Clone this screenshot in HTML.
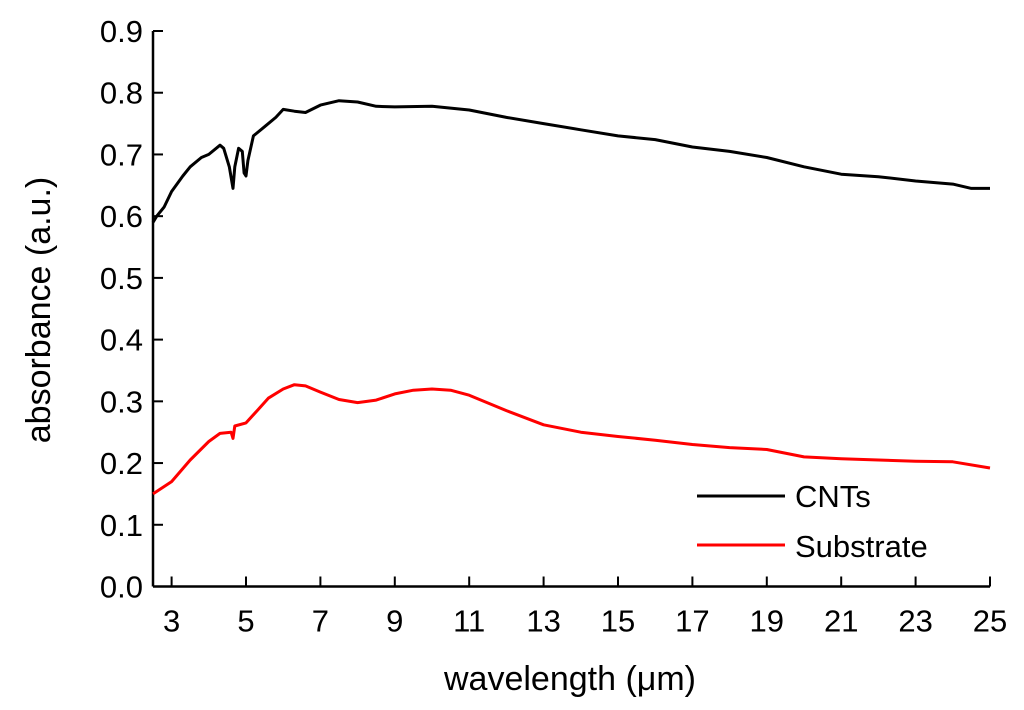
<!DOCTYPE html>
<html><head><meta charset="utf-8"><style>
html,body{margin:0;padding:0;background:#fff;}
svg{display:block;font-family:"Liberation Sans",Arial,sans-serif;}
</style></head><body>
<svg id="chart" width="1024" height="710">
<g id="axes"></g>
<g id="series"></g>
<text x="570" y="690" font-size="34" text-anchor="middle">wavelength (μm)</text>
<text transform="translate(50,310) rotate(-90)" font-size="34" text-anchor="middle">absorbance (a.u.)</text>
<g>
<g><line x1="697" y1="496" x2="785" y2="496" stroke="#000" stroke-width="3"/><text x="795" y="507" font-size="31">CNTs</text></g>
<g><line x1="697" y1="545" x2="785" y2="545" stroke="#f00" stroke-width="3"/><text x="795" y="557" font-size="31">Substrate</text></g>
</g>
</svg>
<script>
const xTicks=[3,5,7,9,11,13,15,17,19,21,23,25];
const yTicks=[0,0.1,0.2,0.3,0.4,0.5,0.6,0.7,0.8,0.9];
const cntX=[2.5,2.6,2.8,3.0,3.3,3.5,3.8,4.0,4.3,4.4,4.55,4.65,4.7,4.8,4.9,4.95,5.0,5.05,5.2,5.5,5.8,6.0,6.3,6.6,7.0,7.5,8,8.5,9,10,11,12,13,14,15,16,17,18,19,20,21,22,23,24,24.5,25];
const cntY=[0.59,0.60,0.615,0.64,0.665,0.68,0.695,0.70,0.715,0.71,0.68,0.645,0.68,0.71,0.705,0.67,0.665,0.69,0.73,0.745,0.76,0.773,0.77,0.768,0.78,0.787,0.785,0.778,0.777,0.778,0.772,0.76,0.75,0.74,0.73,0.724,0.712,0.705,0.695,0.68,0.668,0.664,0.657,0.652,0.645,0.645];
const subX=[2.5,3,3.5,4,4.3,4.6,4.65,4.7,5,5.3,5.6,6,6.3,6.6,7,7.5,8,8.5,9,9.5,10,10.5,11,12,13,14,15,16,17,18,19,20,21,22,23,24,25];
const subY=[0.15,0.17,0.205,0.235,0.248,0.25,0.24,0.26,0.265,0.285,0.305,0.32,0.327,0.325,0.315,0.303,0.298,0.302,0.312,0.318,0.32,0.318,0.31,0.285,0.262,0.25,0.243,0.237,0.23,0.225,0.222,0.21,0.207,0.205,0.203,0.202,0.192];
const X0=153,X1=990,Y0=586.5,Y1=31;
const xs=v=>X0+(v-2.5)/(25-2.5)*(X1-X0);
const ys=v=>Y0+(v/0.9)*(Y1-Y0);
const NS='http://www.w3.org/2000/svg';
const ax=document.getElementById('axes');
function mk(t,a,p){const e=document.createElementNS(NS,t);for(const k in a)e.setAttribute(k,a[k]);p.appendChild(e);return e;}
const xl=mk('line',{x1:X0,y1:Y0,x2:X1,y2:Y0,stroke:'#000','stroke-width':2.5},ax);


const yl=mk('line',{x1:X0,y1:Y0,x2:X0,y2:Y1,stroke:'#000','stroke-width':2.5},ax);


xTicks.forEach(t=>{
 mk('line',{x1:xs(t),y1:Y0,x2:xs(t),y2:Y0-10,stroke:'#000','stroke-width':2},ax);
 const e=mk('text',{x:xs(t),y:Y0+45,'font-size':31,'text-anchor':'middle'},ax);e.textContent=t;
 
 
});
yTicks.forEach(t=>{
 mk('line',{x1:X0,y1:ys(t),x2:X0+10,y2:ys(t),stroke:'#000','stroke-width':2},ax);
 const e=mk('text',{x:X0-10,y:ys(t)+11,'font-size':31,'text-anchor':'end'},ax);e.textContent=t.toFixed(1);
 
 
});
const sg=document.getElementById('series');
function line(xa,ya,c,n){
 const d=xa.map((x,i)=>(i?'L':'M')+xs(x).toFixed(1)+','+ys(ya[i]).toFixed(1)).join('');
 const p=mk('path',{d:d,fill:'none',stroke:c,'stroke-width':3,'stroke-linejoin':'round'},sg);
 
 
}
line(cntX,cntY,'#000','cnts-line');
line(subX,subY,'#f00','substrate-line');
</script>
</body></html>
